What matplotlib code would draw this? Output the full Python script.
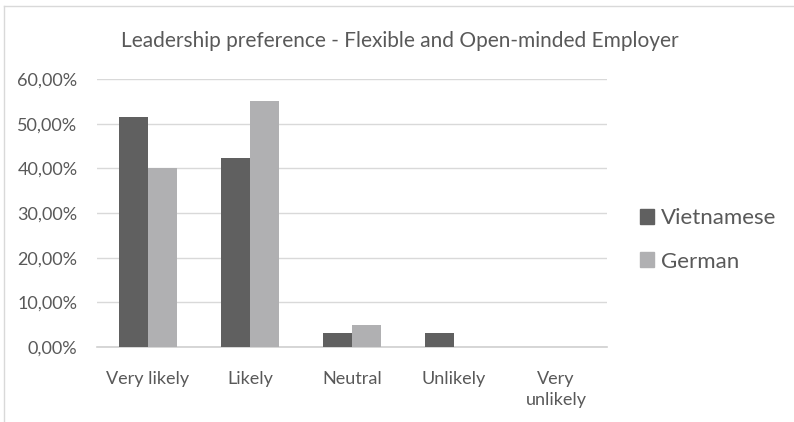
import matplotlib
matplotlib.use("Agg")
import matplotlib.pyplot as plt
import numpy as np
from matplotlib.patches import Rectangle
from matplotlib.lines import Line2D

categories = ["Very likely", "Likely", "Neutral", "Unlikely", "Very\nunlikely"]
vietnamese = [51.52, 42.42, 3.03, 3.03, 0.0]
german = [40.0, 55.0, 5.0, 0.0, 0.0]
series_names = ["Vietnamese", "German"]
title = "Leadership preference - Flexible and Open-minded Employer"
yticks = [0, 10, 20, 30, 40, 50, 60]

plt.rcParams['font.family'] = ['Lato', 'DejaVu Sans']
text_color = "#595959"
c_dark = "#606060"
c_light = "#b0b0b2"

W, H = 794, 422
fig = plt.figure(figsize=(W/100, H/100), dpi=100)
ax = fig.add_axes([97/W, 1-347/H, (607-97)/W, (347-79)/H])

x = np.arange(len(categories))
bw = 0.285
ax.bar(x - bw/2, vietnamese, bw, color=c_dark, label=series_names[0], zorder=3)
ax.bar(x + bw/2, german, bw, color=c_light, label=series_names[1], zorder=3)

ax.set_xlim(-0.5, len(categories) - 0.5)
ax.set_ylim(0, 60)
ax.set_yticks(yticks)
ax.set_yticklabels([f"{v:.2f}%".replace(".", ",") for v in yticks], color=text_color, fontsize=13)
ax.set_xticks(x)
ax.set_xticklabels(categories, color=text_color, fontsize=13, linespacing=1.45)
ax.tick_params(axis='y', length=0, pad=14)
ax.tick_params(axis='x', length=0, pad=17)
ax.grid(axis='y', color="#d9d9d9", linewidth=1, zorder=0)
for s in ["top", "right", "left"]:
    ax.spines[s].set_visible(False)
ax.spines["bottom"].set_color("#d0d0d0")
ax.spines["bottom"].set_linewidth(1.2)

fig.text(400/W, 1-41/H, title, ha="center", va="center", color=text_color, fontsize=15)

handles = [Rectangle((0, 0), 1, 1, color=c_dark), Rectangle((0, 0), 1, 1, color=c_light)]
leg = fig.legend(handles, series_names, loc="center left", bbox_to_anchor=(620/W, 1-240/H),
                 frameon=False, fontsize=16, handlelength=0.65, handleheight=0.65,
                 handletextpad=0.3, labelspacing=1.05, labelcolor=text_color)

# outer chart frame
fig.add_artist(Line2D([4/W, 4/W], [0, 1-6/H], color="#d9d9d9", linewidth=1, transform=fig.transFigure))
fig.add_artist(Line2D([4/W, 1], [1-6/H, 1-6/H], color="#d9d9d9", linewidth=1, transform=fig.transFigure))

fig.savefig("out.png", dpi=100)
